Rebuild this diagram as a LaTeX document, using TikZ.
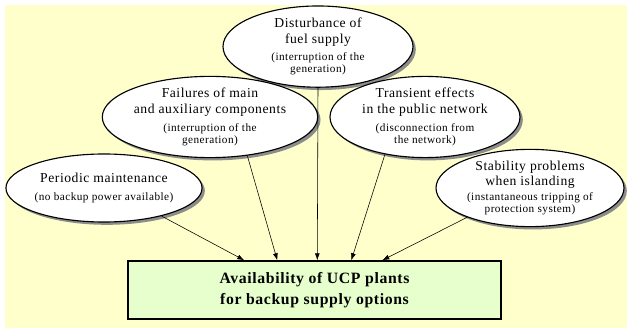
\documentclass[tikz,border=0pt]{standalone}
\usepackage{fontspec}
\setmainfont{Liberation Serif}[LetterSpace=4]
\usetikzlibrary{arrows.meta,shapes.geometric,shadows}
\definecolor{paleyellow}{RGB}{255,255,204}
\definecolor{palegreen}{RGB}{230,255,204}
\newcommand{\detail}[1]{{\fontsize{8}{8.7}\selectfont #1}}

\begin{document}
\begin{tikzpicture}[
  cause/.style={ellipse, draw, line width=0.8pt, fill=white, inner sep=0pt,
    minimum width=4.75cm, minimum height=1.7cm, align=center,
    font=\fontsize{9.7}{11.1}\selectfont,
    drop shadow={shadow xshift=2pt, shadow yshift=-2pt, fill=black!45, opacity=1}},
  target/.style={rectangle, draw, line width=1pt, fill=palegreen, inner sep=0pt,
    minimum width=9.325cm, minimum height=1.45cm, align=center,
    font=\fontsize{11.2}{15.4}\selectfont\bfseries},
  link/.style={-{Latex[length=5pt,width=3.5pt]}, line width=0.4pt}
]
  \useasboundingbox (0,0) rectangle (15.675,8.225);
  \fill[paleyellow] (0.125,0.025) rectangle (15.675,8.1);

  %causes
  \node[cause, minimum height=1.65cm] (fuel) at (7.95,7.06)
    {Disturbance of\\fuel supply\\[1.4pt]\detail{(interruption of the}\\[-2.4pt]\detail{generation)}};
  \node[cause] (fail) at (5.25,5.3)
    {Failures of main\\and auxiliary components\\[1.4pt]\detail{(interruption of the}\\[-2.4pt]\detail{generation)}};
  \node[cause] (grid) at (10.625,5.3)
    {Transient effects\\in the public network\\[1.4pt]\detail{(disconnection from}\\[-2.4pt]\detail{the network)}};
  \node[cause, minimum width=4.8cm] (maint) at (2.6,3.525)
    {Periodic maintenance\\[1.4pt]\detail{(no backup power available)}};
  \node[cause, minimum width=4.7cm] (island) at (13.25,3.525)
    {Stability problems\\when islanding\\[-0.5pt]\detail{(instantaneous tripping of}\\[-2.4pt]\detail{protection system)}};

  %availability
  \node[target] (avail) at (7.8625,0.975)
    {Availability of UCP plants\\for backup supply options};

  \draw[link] (maint.-26) -- ([xshift=2.925cm]avail.north west);
  \draw[link] (fail.-46) -- ([xshift=3.75cm]avail.north west);
  \draw[link] (fuel.-90) -- ([xshift=4.75cm]avail.north west);
  \draw[link] (grid.-137) -- ([xshift=5.6cm]avail.north west);
  \draw[link] (island.-155) -- ([xshift=6.375cm]avail.north west);
\end{tikzpicture}
\end{document}
